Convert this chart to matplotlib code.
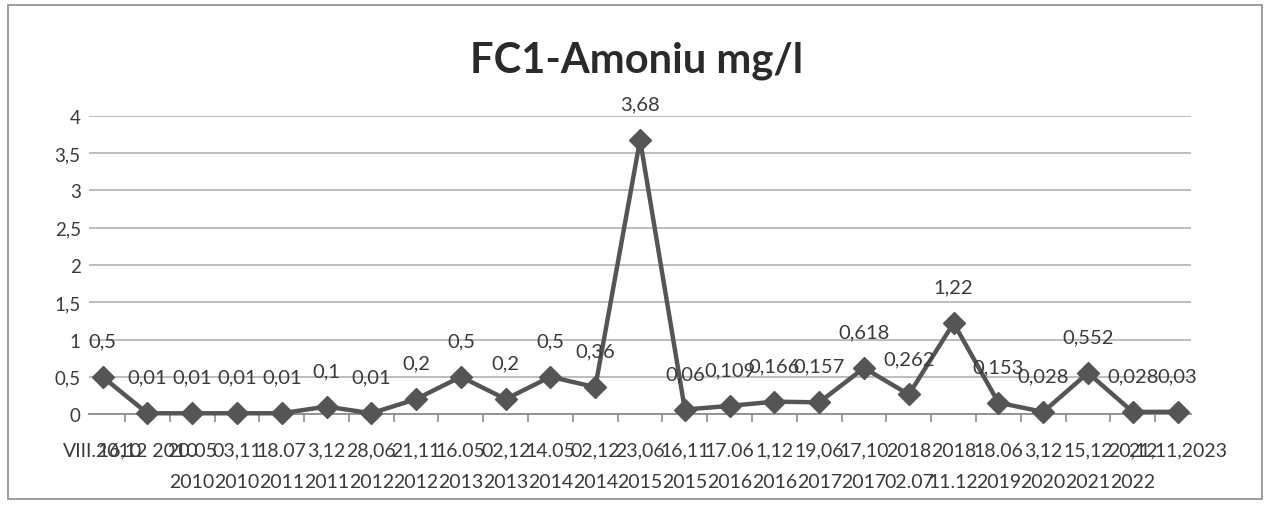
import matplotlib.pyplot as plt
from matplotlib.patches import Rectangle
from matplotlib.ticker import FuncFormatter

# data
dates = ["VIII.2010", "16,12 2010", "20.05\n2010", "03,11\n2010", "18.07\n2011",
         "3,12\n2011", "28,06\n2012", "21,11\n2012", "16.05\n2013", "02,12\n2013",
         "14.05\n2014", "02,12\n2014", "23,06\n2015", "16,11\n2015", "17.06\n2016",
         "1,12\n2016", "19,06\n2017", "17,10\n2017", "2018\n02.07", "2018\n11.12",
         "18.06\n2019", "3,12\n2020", "15,12\n2021", "20,12\n2022", "21,11,2023"]
amoniu = [0.5, 0.01, 0.01, 0.01, 0.01, 0.1, 0.01, 0.2, 0.5, 0.2, 0.5, 0.36, 3.68,
          0.06, 0.109, 0.166, 0.157, 0.618, 0.262, 1.22, 0.153, 0.028, 0.552, 0.028, 0.03]
yticks = [0, 0.5, 1, 1.5, 2, 2.5, 3, 3.5, 4]

plt.rcParams['font.family'] = ['Lato', 'DejaVu Sans']
txt = '#3a3a3a'
line_col = '#555555'

fig = plt.figure(figsize=(12.73, 5.06), dpi=100)
fig.patch.set_facecolor('white')
fig.patches.append(Rectangle((8 / 1273, 6 / 506), 1254 / 1273, 494 / 506, transform=fig.transFigure,
                             fill=False, edgecolor='#8c8c8c', linewidth=1.2))

ax = fig.add_axes([0.070, 0.1798, 0.8656, 0.589])
x = list(range(len(amoniu)))
ax.plot(x, amoniu, color=line_col, linewidth=3.2, marker='D', markersize=11,
        markerfacecolor=line_col, markeredgecolor=line_col, clip_on=False, zorder=3)

for xi, v in zip(x, amoniu):
    ax.annotate(f"{v:g}".replace('.', ','), (xi, v), xytext=(0, 26), textcoords='offset points',
                ha='center', va='center', fontsize=14.5, color=txt)

ax.set_ylim(0, 4)
ax.set_xlim(-0.3, len(amoniu) - 0.7)
ax.set_yticks(yticks)
ax.yaxis.set_major_formatter(FuncFormatter(lambda v, p: f"{v:g}".replace('.', ',')))
ax.tick_params(axis='y', length=0, pad=6, labelsize=13.5, labelcolor=txt)
ax.grid(axis='y', color='#b8b8b8', linewidth=1.3)
ax.set_axisbelow(True)

ax.set_xticks([i + 0.5 for i in x[:-1]], minor=False)
ax.set_xticklabels([])
ax.set_xticks(x, minor=True)
ax.set_xticklabels(dates, minor=True, fontsize=14, color=txt, linespacing=2.0, va='top')
ax.tick_params(axis='x', which='major', length=6, color='#8c8c8c', width=1.2)
ax.tick_params(axis='x', which='minor', length=0, pad=20)

for s in ['top', 'right', 'left']:
    ax.spines[s].set_visible(False)
ax.spines['bottom'].set_color('#8c8c8c')
ax.spines['bottom'].set_linewidth(1.3)

fig.text(0.5, 0.88, "FC1-Amoniu mg/l", ha='center', va='center', fontsize=30,
         fontweight='bold', color='#2a2a2a')

fig.savefig('out.png', dpi=100)
